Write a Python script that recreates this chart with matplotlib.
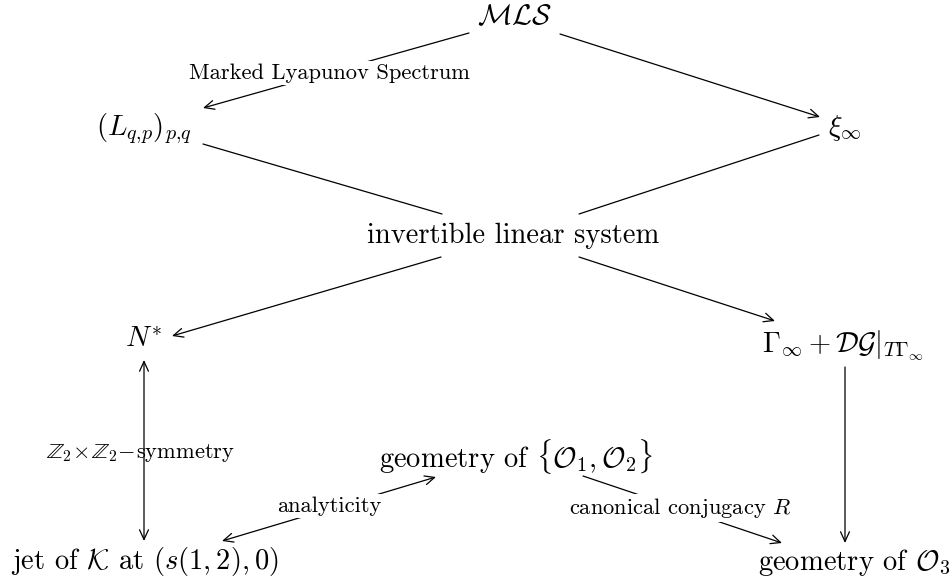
import matplotlib
matplotlib.use("Agg")
import matplotlib.pyplot as plt

plt.rcParams['font.family'] = 'serif'
plt.rcParams['font.serif'] = ['cmr10']
plt.rcParams['mathtext.fontset'] = 'cm'
plt.rcParams['axes.unicode_minus'] = False

# nodes of the diagram (label, centre in pixel coords)
node_labels = [
    r'$\mathcal{MLS}$',
    r'$(L_{q{,}p})_{p{,}q}$',
    r'$\xi_\infty$',
    'invertible linear system',
    r'$N^{*}$',
    r'$\Gamma_\infty + \mathcal{DG}|_{T\Gamma_\infty}$',
    r'geometry of $\{\mathcal{O}_1,\mathcal{O}_2\}$',
    r'jet of $\mathcal{K}$ at $(s(1,2),0)$',
    r'geometry of $\mathcal{O}_3$',
]
node_xy = [(514, 17), (144, 129), (845, 128), (513, 236), (143, 341),
           (843, 345), (516, 456), (145, 561), (854, 562)]

# edges: (start point, end point, arrow style)
edge_start = [(469, 33), (560, 34), (203, 144), (819, 135), (441, 257),
              (579, 257), (144, 360), (222, 541), (583, 476), (845, 367)]
edge_end = [(203, 108), (820, 117), (442, 214), (579, 214), (172, 336),
            (775, 321), (144, 541), (436, 477), (782, 543), (845, 543)]
edge_style = ['->', '->', '-', '-', '->', '->', '<->', '<->', '->', '->']

# edge labels (text, centre, white background?)
edge_labels = ['Marked Lyapunov Spectrum',
               r'$\mathbb{Z}_2\!\times\!\mathbb{Z}_2\!-\!$symmetry',
               'analyticity',
               r'canonical conjugacy $R$']
edge_label_xy = [(329, 73), (141, 453), (329, 506), (680, 508)]
edge_label_box = [True, False, True, True]

fig = plt.figure(figsize=(9.49, 5.81), dpi=100)
ax = fig.add_axes([0, 0, 1, 1])
ax.set_xlim(0, 949)
ax.set_ylim(581, 0)
ax.axis('off')

for s, e, st in zip(edge_start, edge_end, edge_style):
    if st == '-':
        arrowstyle = '-'
    else:
        arrowstyle = st + ',head_length=0.7,head_width=0.32'
    ax.annotate('', xy=e, xytext=s,
                arrowprops=dict(arrowstyle=arrowstyle, lw=0.9, color='black',
                                shrinkA=0, shrinkB=0, mutation_scale=10),
                zorder=1)

for lab, (x, y) in zip(node_labels, node_xy):
    ax.text(x, y, lab, fontsize=20.6, ha='center', va='center', zorder=3)

for lab, (x, y), box in zip(edge_labels, edge_label_xy, edge_label_box):
    kw = {}
    if box:
        kw['bbox'] = dict(facecolor='white', edgecolor='none', pad=1.5)
    ax.text(x, y, lab, fontsize=16.2, ha='center', va='center', zorder=3, **kw)

fig.savefig('out.png', dpi=100)
